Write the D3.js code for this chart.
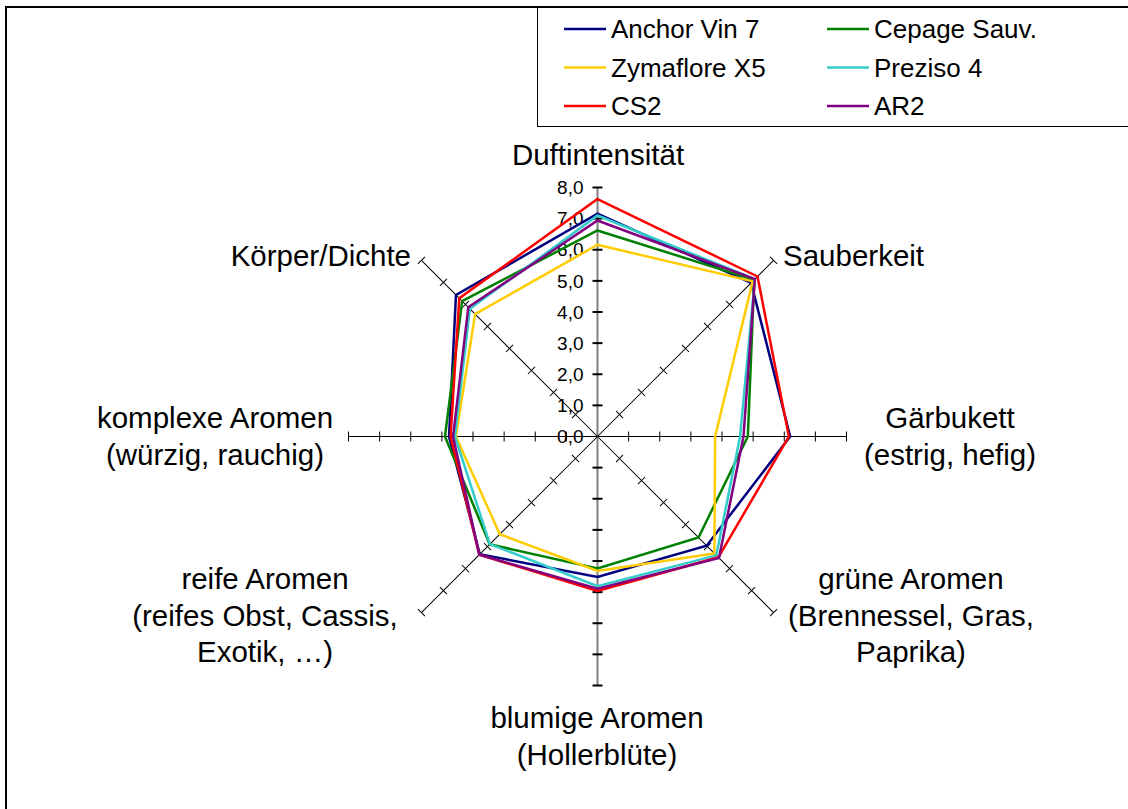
<!DOCTYPE html>
<html>
<head>
<meta charset="utf-8">
<script src="https://cdn.jsdelivr.net/npm/d3@7"></script>
<style>
  body { margin: 0; background: #fff; }
  text { font-family: "Liberation Sans", Arial, sans-serif; fill: #000; }
</style>
</head>
<body>
<svg id="chart" width="1128" height="809"></svg>
<script>
// axis categories (clockwise from top)
var categories = [
  ["Duftintensität"],
  ["Sauberkeit"],
  ["Gärbukett", "(estrig, hefig)"],
  ["grüne Aromen", "(Brennessel, Gras,", "Paprika)"],
  ["blumige Aromen", "(Hollerblüte)"],
  ["reife Aromen", "(reifes Obst, Cassis,", "Exotik, …)"],
  ["komplexe Aromen", "(würzig, rauchig)"],
  ["Körper/Dichte"]
];

var seriesNames = ["Anchor Vin 7", "Cepage Sauv.", "Zymaflore X5", "Preziso 4", "CS2", "AR2"];
var seriesColors = ["#000080", "#008000", "#FFCC00", "#33CCCC", "#FF0000", "#800080"];

var anchorVin7  = [7.16, 6.98, 6.19, 4.96, 4.51, 5.35, 4.77, 6.43];
var cepageSauv  = [6.62, 7.12, 4.83, 4.59, 4.24, 4.90, 4.90, 6.15];
var zymafloreX5 = [6.16, 7.05, 3.78, 5.31, 4.32, 4.44, 4.55, 5.56];
var preziso4    = [7.10, 7.15, 4.58, 5.40, 4.81, 4.89, 4.58, 5.80];
var cs2         = [7.63, 7.27, 6.15, 5.49, 4.96, 5.37, 4.72, 6.28];
var ar2         = [6.94, 7.15, 4.69, 5.52, 4.89, 5.37, 4.64, 5.87];

var tickValues = [0, 1, 2, 3, 4, 5, 6, 7, 8];

var seriesValues = [anchorVin7, cepageSauv, zymafloreX5, preziso4, cs2, ar2];

var svg = d3.select("#chart");
var cx = 597.5, cy = 436.5, R = 249;

var rScale = d3.scaleLinear().domain([0, 8]).range([0, R]);
var angle = d3.scaleLinear().domain([0, categories.length]).range([0, 2 * Math.PI]);

var fmt = d3.formatLocale({decimal: ",", thousands: ".", grouping: [3], currency: ["", "€"]}).format(".1f");

// outer frame
svg.append("rect")
  .attr("x", 6).attr("y", 7)
  .attr("width", 1140).attr("height", 820)
  .attr("fill", "none").attr("stroke", "#000").attr("stroke-width", 2);

var g = svg.append("g").attr("transform", "translate(" + cx + "," + cy + ")");

// category axes
categories.forEach(function(c, i) {
  var a = angle(i);
  var isValueAxis = (i === 0 || i === 4);
  var ax = g.append("g").attr("transform", "rotate(" + (a * 180 / Math.PI) + ")");
  ax.append("line")
    .attr("x1", 0).attr("y1", 0)
    .attr("x2", 0).attr("y2", -rScale(8))
    .attr("stroke", isValueAxis ? "#808080" : "#000")
    .attr("stroke-width", isValueAxis ? 2 : 1);
  ax.selectAll(".tick")
    .data(tickValues.slice(1))
    .enter().append("line")
    .attr("x1", -5).attr("x2", 5)
    .attr("y1", function(d) { return -rScale(d); })
    .attr("y2", function(d) { return -rScale(d); })
    .attr("stroke", "#000")
    .attr("stroke-width", isValueAxis ? 2 : 1);
});

// value tick labels
g.selectAll(".tlabel")
  .data(tickValues)
  .enter().append("text")
  .attr("x", -14)
  .attr("y", function(d) { return -rScale(d); })
  .attr("dy", "0.35em")
  .attr("text-anchor", "end")
  .style("font-size", "19px")
  .text(function(d) { return fmt(d); });

// category labels
var labelPos = [
  {x: 598, y: 165, anchor: "middle"},
  {x: 783, y: 266, anchor: "start"},
  {x: 950, y: 428, anchor: "middle"},
  {x: 911, y: 589, anchor: "middle"},
  {x: 597, y: 728, anchor: "middle"},
  {x: 265, y: 589, anchor: "middle"},
  {x: 215, y: 428, anchor: "middle"},
  {x: 411, y: 266, anchor: "end"}
];
categories.forEach(function(lines, i) {
  var t = svg.append("text")
    .attr("x", labelPos[i].x).attr("y", labelPos[i].y)
    .attr("text-anchor", labelPos[i].anchor)
    .style("font-size", "29.5px");
  lines.forEach(function(l, j) {
    t.append("tspan").attr("x", labelPos[i].x).attr("dy", j === 0 ? 0 : 36.5).text(l);
  });
});

// series polygons
var radial = d3.lineRadial()
  .angle(function(d, i) { return angle(i); })
  .radius(function(d) { return rScale(d); })
  .curve(d3.curveLinearClosed);

g.selectAll(".series")
  .data(seriesValues)
  .enter().append("path")
  .attr("class", "series")
  .attr("d", radial)
  .attr("fill", "none")
  .attr("stroke", function(d, i) { return seriesColors[i]; })
  .attr("stroke-width", 2.5)
  .attr("stroke-linejoin", "miter");

// legend
var lg = svg.append("g");
lg.append("rect")
  .attr("x", 537.5).attr("y", 7)
  .attr("width", 620).attr("height", 119.5)
  .attr("fill", "#fff").attr("stroke", "#000").attr("stroke-width", 1);
svg.append("line").attr("x1", 6).attr("x2", 1128).attr("y1", 7).attr("y2", 7)
  .attr("stroke", "#000").attr("stroke-width", 2);

var legendX = [564, 827], legendY = [29, 67.5, 106];
seriesNames.forEach(function(name, i) {
  var col = i % 2, row = Math.floor(i / 2);
  var x = legendX[col], y = legendY[row];
  lg.append("line")
    .attr("x1", x).attr("x2", x + 42)
    .attr("y1", y).attr("y2", y)
    .attr("stroke", seriesColors[i]).attr("stroke-width", 2.5);
  lg.append("text")
    .attr("x", x + 47).attr("y", y)
    .attr("dy", "0.35em")
    .style("font-size", "26px")
    .text(name);
});
</script>
</body>
</html>
